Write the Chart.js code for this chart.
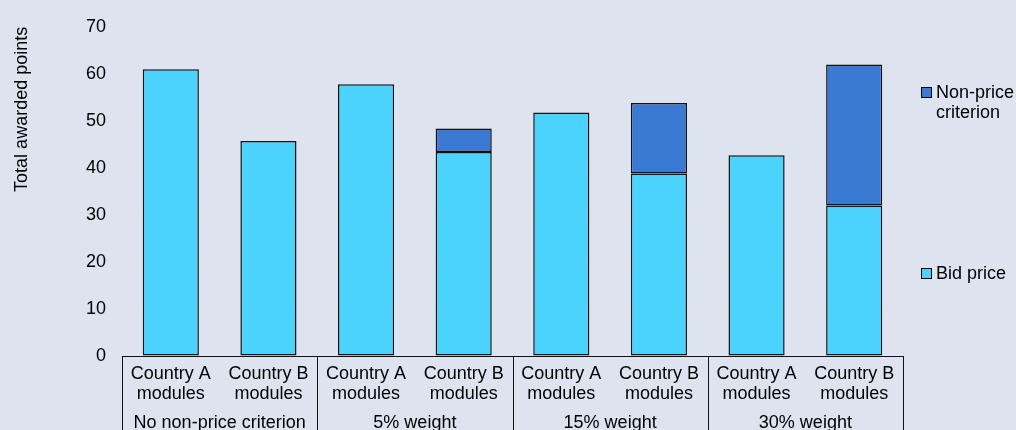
<!DOCTYPE html>
<html>
<head>
<meta charset="utf-8">
<script src="https://cdn.jsdelivr.net/npm/chart.js@4.4.1/dist/chart.umd.min.js"></script>
<style>
  html, body { margin: 0; padding: 0; background: #dde4f0; }
  #wrap { position: relative; width: 1016px; height: 430px; overflow: hidden; }
  #legend { position: absolute; left: 921px; top: 0; width: 95px; font: 18px "Liberation Sans", Arial, sans-serif; color: #000; }
  .item { position: absolute; left: 0; width: 95px; display: flex; align-items: flex-start; line-height: 20px; }
  .swatch { width: 9px; height: 9px; border: 1px solid #000; margin-top: 5px; margin-right: 4px; flex: none; }
</style>
</head>
<body>
<div id="wrap">
  <canvas id="chart" width="1016" height="430"></canvas>
  <div id="legend"></div>
</div>
<script>
// Data
const categories = [
  ['Country A', 'modules'], ['Country B', 'modules'],
  ['Country A', 'modules'], ['Country B', 'modules'],
  ['Country A', 'modules'], ['Country B', 'modules'],
  ['Country A', 'modules'], ['Country B', 'modules']
];
const groups = ['No non-price criterion', '5% weight', '15% weight', '30% weight'];
const bidPrice = [61, 45.7, 57.8, 43.4, 51.8, 38.8, 42.7, 32];
const nonPrice = [null, null, null, 5, null, 15, null, 30];
const yTicks = [0, 10, 20, 30, 40, 50, 60, 70];

const colors = {
  bid: '#4bd3fe',
  nonPrice: '#3b7ad3',
  grid: '#e6e3dc',
  text: '#000',
  line: '#111'
};
const FONT = '"Liberation Sans", Arial, sans-serif';
Chart.defaults.font.family = FONT;

// vertical separators between the groups, below the axis
const groupLines = {
  id: 'groupLines',
  afterDraw(chart) {
    const xs = chart.scales.x;
    const ctx = chart.ctx;
    const step = xs.width / groups.length;
    ctx.save();
    ctx.strokeStyle = colors.line;
    ctx.lineWidth = 1;
    for (let g = 0; g <= groups.length; g++) {
      const x = Math.round(xs.left + g * step) + 0.5;
      ctx.beginPath();
      ctx.moveTo(x, xs.top);
      ctx.lineTo(x, chart.height);
      ctx.stroke();
    }
    ctx.restore();
  }
};

const chart = new Chart(document.getElementById('chart'), {
  type: 'bar',
  data: {
    labels: categories,
    datasets: [
      { label: 'Bid price', data: bidPrice, backgroundColor: colors.bid },
      { label: 'Non-price criterion', data: nonPrice, backgroundColor: colors.nonPrice }
    ].map(d => Object.assign(d, {
      borderColor: colors.line,
      borderWidth: 1.5,
      borderSkipped: false,
      barPercentage: 0.575,
      categoryPercentage: 1
    }))
  },
  options: {
    responsive: false,
    animation: false,
    layout: { padding: { top: 24, right: 113, left: 0, bottom: 0 } },
    plugins: { legend: { display: false }, tooltip: { enabled: false } },
    scales: {
      x: {
        stacked: true,
        weight: 0,
        grid: { display: false },
        border: { color: colors.line, width: 1 },
        ticks: { color: colors.text, font: { size: 18, lineHeight: 1.1 }, padding: 0, maxRotation: 0, autoSkip: false },
        afterFit: s => { s.height = 52; }
      },
      x2: {
        type: 'category',
        labels: groups,
        position: 'bottom',
        weight: 1,
        offset: true,
        grid: { display: false },
        border: { display: false },
        ticks: { color: colors.text, font: { size: 18 }, padding: -4, maxRotation: 0, autoSkip: false },
        afterFit: s => { s.height = 22; }
      },
      y: {
        stacked: true,
        min: yTicks[0],
        max: yTicks[yTicks.length - 1],
        ticks: { stepSize: 10, color: colors.text, font: { size: 18 }, padding: 16 },
        grid: { color: colors.grid, drawTicks: false },
        border: { display: false },
        title: {
          display: true, text: 'Total awarded points', align: 'end',
          color: colors.text, font: { size: 18 }, padding: { top: 11, bottom: 0 }
        },
        afterFit: s => { s.width = 122; }
      }
    }
  },
  plugins: [groupLines]
});

// legend on the right, top entry first
const legendTops = [82, 263];
const legend = document.getElementById('legend');
chart.data.datasets.slice().reverse().forEach((ds, i) => {
  const item = document.createElement('div');
  item.className = 'item';
  item.style.top = legendTops[i] + 'px';
  item.innerHTML = '<span class="swatch" style="background:' + ds.backgroundColor + '"></span><span>' + ds.label + '</span>';
  legend.appendChild(item);
});
</script>
</body>
</html>
